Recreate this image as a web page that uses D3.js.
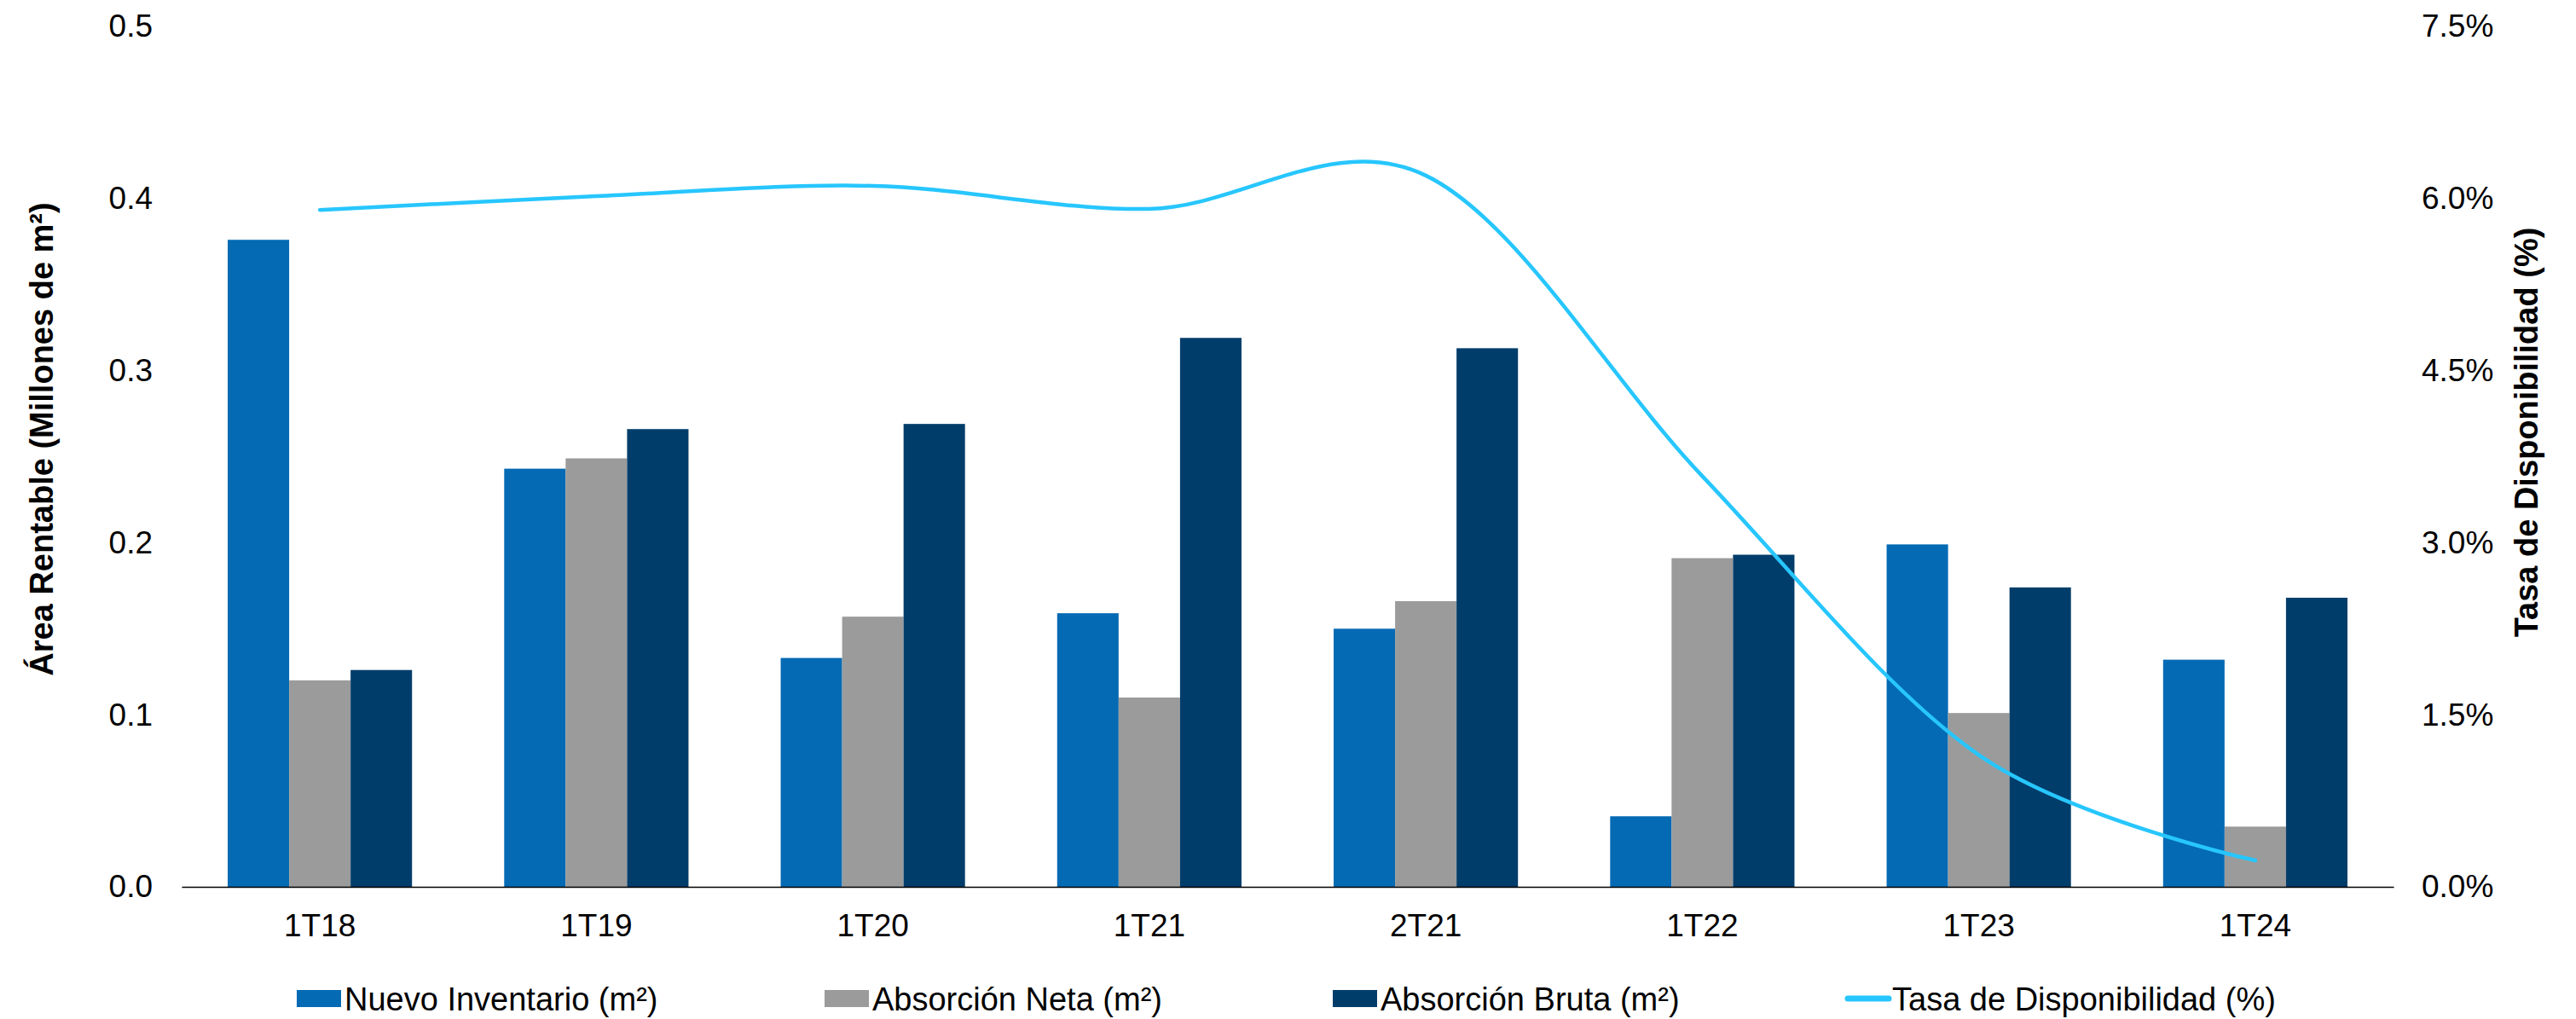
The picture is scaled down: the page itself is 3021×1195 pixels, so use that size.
<!DOCTYPE html>
<html>
<head>
<meta charset="utf-8">
<script src="https://cdn.jsdelivr.net/npm/d3@7"></script>
<style>
  html, body { margin: 0; padding: 0; background: #ffffff; }
  svg { display: block; font-family: "Liberation Sans", Arial, sans-serif; }
</style>
</head>
<body>
<svg id="chart" width="3021" height="1195"></svg>
<script>
// data
const categories = [ "1T18", "1T19", "1T20", "1T21", "2T21", "1T22", "1T23", "1T24" ];
const nuevoInventario = [ 0.376, 0.243, 0.133, 0.159, 0.150, 0.041, 0.199, 0.132 ]; // millones m²
const absorcionNeta = [ 0.120, 0.249, 0.157, 0.110, 0.166, 0.191, 0.101, 0.035 ];
const absorcionBruta = [ 0.126, 0.266, 0.269, 0.319, 0.313, 0.193, 0.174, 0.168 ];
const tasaDisponibilidad = [ 0.0590, 0.0602, 0.0611, 0.0591, 0.0620, 0.0358, 0.0115, 0.0023 ];

const leftTicks = [ 0, 0.1, 0.2, 0.3, 0.4, 0.5 ];
const rightTicks = [ 0, 0.015, 0.03, 0.045, 0.06, 0.075 ];

const seriesNames = [ "Nuevo Inventario (m²)", "Absorción Neta (m²)", "Absorción Bruta (m²)" ];
const lineName = "Tasa de Disponibilidad (%)";
const colors = [ "#046ab4", "#9b9b9b", "#013d6a" ];
const lineColor = "#27c6fe";

const margin = { left: 213, right: 214, top: 31, bottom: 155 }; // plot area edges
const width = 3021, height = 1195;
const fontSize = 37;

const svg = d3.select( "#chart" );

const x0 = d3.scaleBand().domain( categories ).range( [ margin.left, width - margin.right ] );
const x1 = d3.scaleBand().domain( d3.range( seriesNames.length ) ).range( [ 0, x0.bandwidth() ] ).paddingOuter( 0.75 );
const yL = d3.scaleLinear().domain( [ 0, 0.5 ] ).range( [ height - margin.bottom, margin.top ] );
const yR = d3.scaleLinear().domain( [ 0, 0.075 ] ).range( [ height - margin.bottom, margin.top ] );

const rows = categories.map( ( c, i ) => ( { cat: c, vals: [ nuevoInventario[ i ], absorcionNeta[ i ], absorcionBruta[ i ] ] } ) );

// bars
svg.append( "g" )
    .selectAll( "g" )
    .data( rows )
    .join( "g" )
        .attr( "transform", d => `translate(${x0( d.cat )},0)` )
        .selectAll( "rect" )
        .data( d => d.vals.map( ( v, k ) => ( { v, k } ) ) )
        .join( "rect" )
            .attr( "x", d => x1( d.k ) )
            .attr( "y", d => yL( d.v ) )
            .attr( "width", x1.bandwidth() )
            .attr( "height", d => yL( 0 ) - yL( d.v ) )
            .attr( "fill", d => colors[ d.k ] );

// category axis
const xAxis = svg.append( "g" )
    .attr( "transform", `translate(0,${yL( 0 )})` )
    .call( d3.axisBottom( x0 ).tickSize( 0 ).tickSizeOuter( 0 ).tickPadding( 32 ) );
xAxis.select( ".domain" ).attr( "stroke", "#000" ).attr( "stroke-width", 1.5 );
xAxis.selectAll( "text" ).attr( "font-size", fontSize ).attr( "fill", "#000" ).style( "font-family", "inherit" );

// left axis
const leftAxis = svg.append( "g" )
    .attr( "transform", `translate(${margin.left},0)` )
    .call( d3.axisLeft( yL ).tickValues( leftTicks ).tickFormat( d3.format( ".1f" ) ).tickSize( 0 ).tickPadding( 34 ) );
leftAxis.select( ".domain" ).remove();
leftAxis.selectAll( "text" ).attr( "font-size", fontSize ).attr( "fill", "#000" ).style( "font-family", "inherit" );

// right axis
const rightAxis = svg.append( "g" )
    .attr( "transform", `translate(${width - margin.right},0)` )
    .call( d3.axisRight( yR ).tickValues( rightTicks ).tickFormat( d3.format( ".1%" ) ).tickSize( 0 ).tickPadding( 33 ) );
rightAxis.select( ".domain" ).remove();
rightAxis.selectAll( "text" ).attr( "font-size", fontSize ).attr( "fill", "#000" ).style( "font-family", "inherit" );

// smoothed rate line
const line = d3.line()
    .x( ( d, i ) => x0( categories[ i ] ) + x0.bandwidth() / 2 )
    .y( d => yR( d ) )
    .curve( d3.curveCardinal.tension( 0 ) );

svg.append( "path" )
    .datum( tasaDisponibilidad )
    .attr( "d", line )
    .attr( "fill", "none" )
    .attr( "stroke", lineColor )
    .attr( "stroke-width", 4.5 )
    .attr( "stroke-linecap", "round" );

// axis titles
svg.append( "text" )
    .attr( "transform", "translate(62,515) rotate(-90)" )
    .attr( "text-anchor", "middle" )
    .attr( "font-size", 38 )
    .attr( "font-weight", "bold" )
    .text( "Área Rentable (Millones de m²)" );

svg.append( "text" )
    .attr( "transform", "translate(2976,507) rotate(-90)" )
    .attr( "text-anchor", "middle" )
    .attr( "font-size", 38 )
    .attr( "font-weight", "bold" )
    .text( lineName );

// legend
const legendX = [ 348, 967, 1563, 2163 ];
const legendY = 1171;
const legend = svg.append( "g" )
    .selectAll( "g" )
    .data( seriesNames.concat( [ lineName ] ) )
    .join( "g" )
        .attr( "transform", ( d, i ) => `translate(${legendX[ i ]},${legendY})` );

legend.filter( ( d, i ) => i < seriesNames.length )
    .append( "rect" )
    .attr( "x", 0 )
    .attr( "y", -10 )
    .attr( "width", 52 )
    .attr( "height", 20 )
    .attr( "fill", ( d, i ) => colors[ i ] );

legend.filter( d => d === lineName )
    .append( "line" )
    .attr( "x1", 4 )
    .attr( "x2", 52 )
    .attr( "stroke", lineColor )
    .attr( "stroke-width", 7 )
    .attr( "stroke-linecap", "round" );

legend.append( "text" )
    .attr( "x", 56 )
    .attr( "y", 14 )
    .attr( "font-size", 38 )
    .attr( "fill", "#000" )
    .text( d => d );
</script>
</body>
</html>
